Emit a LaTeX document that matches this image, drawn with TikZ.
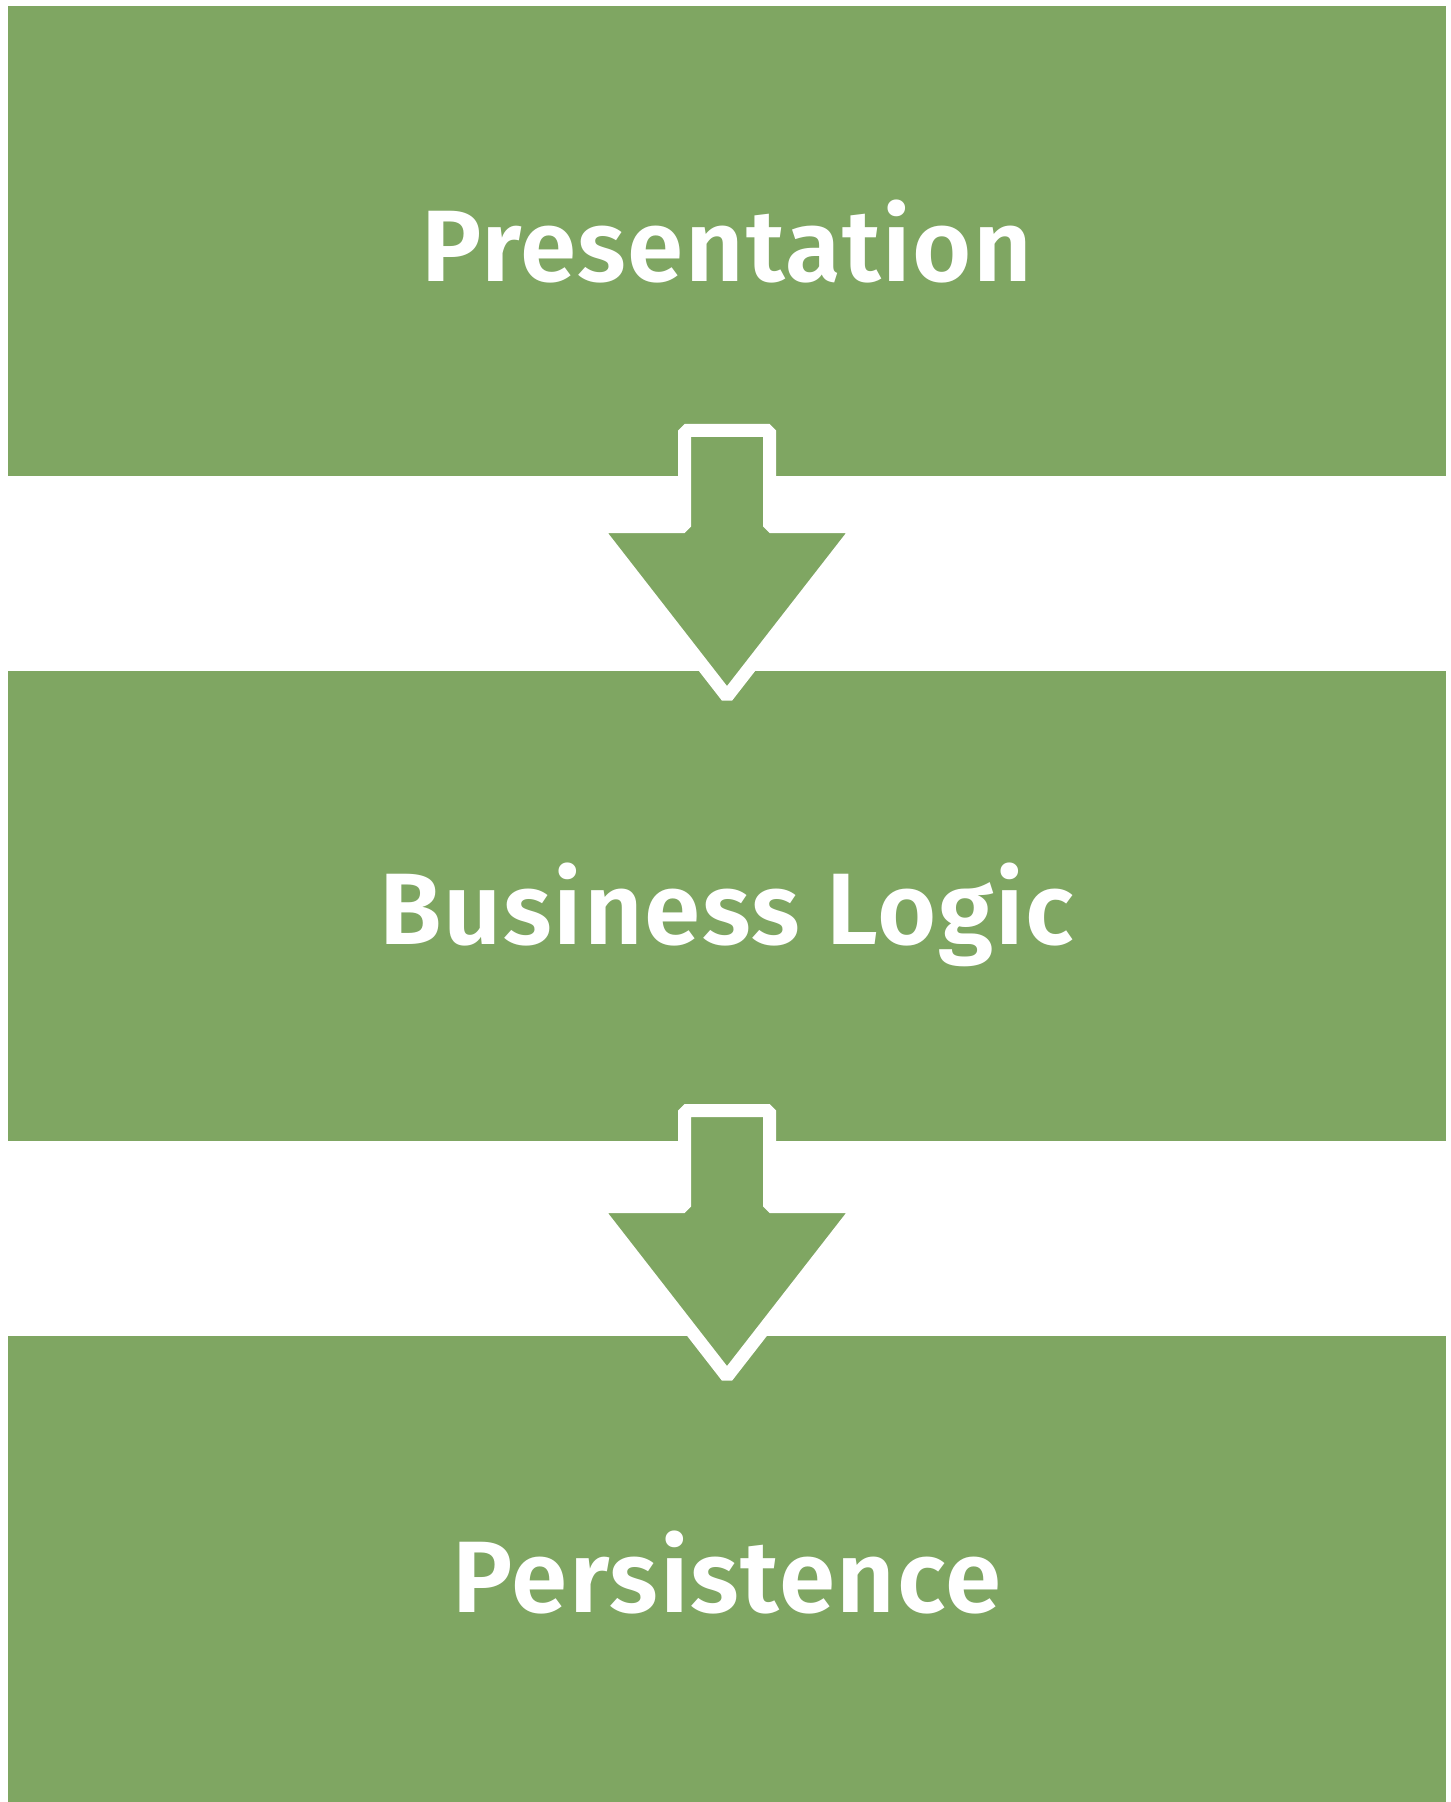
\documentclass[tikz,border=0pt]{standalone}
\usepackage{fontspec}
\newfontfamily\labfont{Fira Sans}[UprightFont={* SemiBold}, LetterSpace=1.6]
\definecolor{boxgreen}{RGB}{127,166,98}
\begin{document}
\begin{tikzpicture}[x=0.5pt,y=-0.5pt,
  layer/.style={fill=boxgreen, draw=none, inner sep=0pt, outer sep=0pt, anchor=north west},
  labeltext/.style={text=white, anchor=base, inner sep=0pt, font=\labfont\fontsize{50.8}{60}\selectfont},
  downarrow/.style={fill=boxgreen, draw=white, line width=6.5pt, line join=bevel}]
\useasboundingbox (0,0) rectangle (1450,1802);
\fill[white] (0,0) rectangle (1450,1802);
% layers
\node[layer, minimum width=719pt, minimum height=235pt] (pres) at (8,6) {};
\node[layer, minimum width=719pt, minimum height=235pt] (bus) at (8,671) {};
\node[layer, minimum width=719pt, minimum height=233pt] (pers) at (8,1336) {};
% arrows
\draw[downarrow, shift={(727,430.5)}] (-42.5,0) -- (-42.5,96) -- (-132.3,96) -- (0,266.1) -- (132.3,96) -- (42.5,96) -- (42.5,0) -- cycle;
\draw[downarrow, shift={(727,1110.5)}] (-42.5,0) -- (-42.5,96) -- (-132.3,96) -- (0,266.1) -- (132.3,96) -- (42.5,96) -- (42.5,0) -- cycle;
% labels
\node[labeltext] (t1) at (727,282) {Presentation};
\node[labeltext] (t2) at (727,944) {Business Logic};
\node[labeltext] (t3) at (727,1612) {Persistence};
\end{tikzpicture}
\end{document}
